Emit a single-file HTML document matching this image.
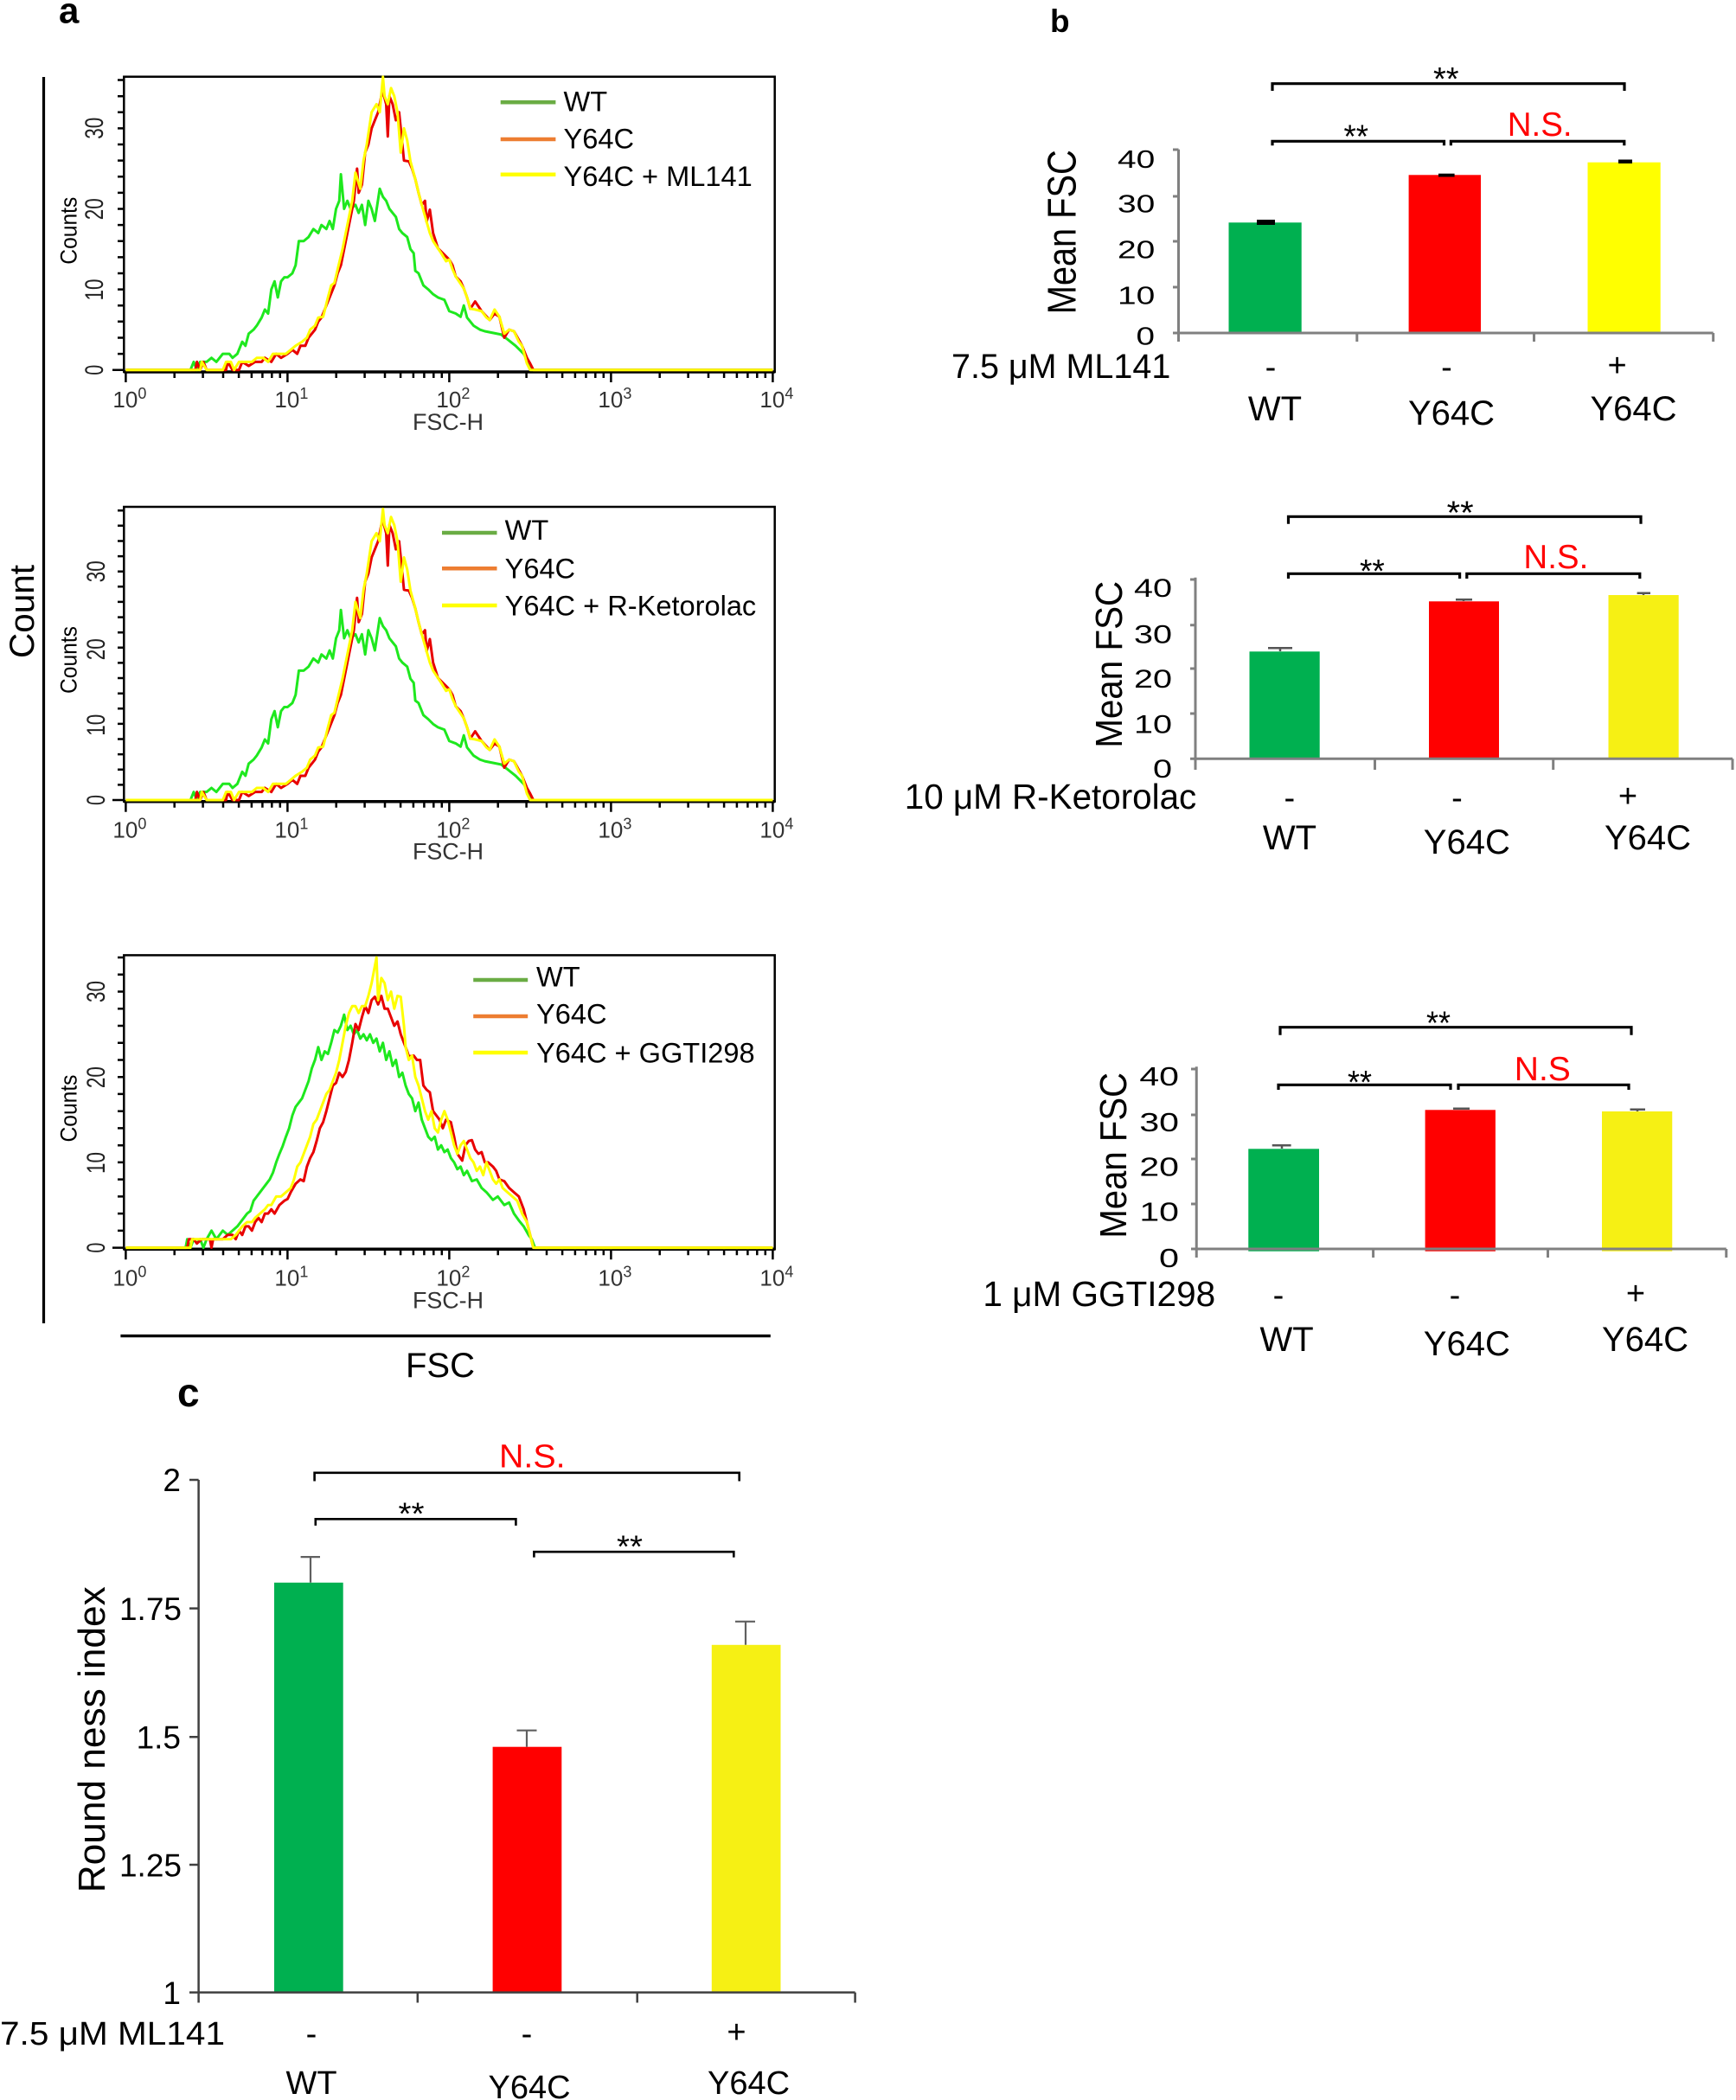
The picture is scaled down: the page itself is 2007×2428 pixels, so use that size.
<!DOCTYPE html>
<html><head><meta charset="utf-8"><style>html,body{margin:0;padding:0;background:#fff}svg{display:block}</style></head>
<body>
<svg xmlns="http://www.w3.org/2000/svg" width="2007" height="2428" viewBox="0 0 2007 2428" font-family="Liberation Sans, Arial, sans-serif">
<rect width="2007" height="2428" fill="#fff"/>

<!-- ============ PANEL A ============ -->
<text x="68" y="26.7" font-size="42" font-weight="bold">a</text>
<line x1="50.5" y1="89" x2="50.5" y2="1530" stroke="#000" stroke-width="3.2"/>
<text transform="translate(39,707) rotate(-90)" text-anchor="middle" font-size="40" textLength="108" lengthAdjust="spacingAndGlyphs">Count</text>
<line x1="139.4" y1="1544.6" x2="890.8" y2="1544.6" stroke="#000" stroke-width="3.4"/>
<text x="509" y="1591.8" text-anchor="middle" font-size="40">FSC</text>

<!-- Plot 1 -->
<g>
<rect x="143.3" y="88.7" width="752.4" height="341.3" fill="none" stroke="#000" stroke-width="2.5"/>
<line x1="143.3" y1="430" x2="895.7" y2="430" stroke="#000" stroke-width="3.5"/>
<path d="M130,427.7H143.3M136,409.1H143.3M136,390.5H143.3M136,371.8H143.3M136,353.2H143.3M136,334.6H143.3M136,316H143.3M136,297.4H143.3M136,278.7H143.3M136,260.1H143.3M136,241.5H143.3M136,222.9H143.3M136,204.3H143.3M136,185.6H143.3M136,167H143.3M136,148.4H143.3M136,129.8H143.3M136,111.2H143.3M136,92.5H143.3" stroke="#000" stroke-width="2.5" fill="none"/>
<g transform="translate(0,430)">
<path d="M145.4,0v12M332.4,0v12M519.4,0v12M706.4,0v12M893.4,0v12M201.7,0v7M234.6,0v7M258,0v7M276.1,0v7M290.9,0v7M303.4,0v7M314.3,0v7M323.8,0v7M388.7,0v7M421.6,0v7M445,0v7M463.1,0v7M477.9,0v7M490.4,0v7M501.3,0v7M510.8,0v7M575.7,0v7M608.6,0v7M632,0v7M650.1,0v7M664.9,0v7M677.4,0v7M688.3,0v7M697.8,0v7M762.7,0v7M795.6,0v7M819,0v7M837.1,0v7M851.9,0v7M864.4,0v7M875.3,0v7M884.8,0v7" stroke="#000" stroke-width="2.5" fill="none"/>
<g font-size="26" fill="#333">
<text x="130.4" y="41">10<tspan dy="-10" font-size="18">0</tspan></text>
<text x="317.4" y="41">10<tspan dy="-10" font-size="18">1</tspan></text>
<text x="504.4" y="41">10<tspan dy="-10" font-size="18">2</tspan></text>
<text x="691.4" y="41">10<tspan dy="-10" font-size="18">3</tspan></text>
<text x="878.4" y="41">10<tspan dy="-10" font-size="18">4</tspan></text>
</g>
<text x="477" y="67" font-size="27" fill="#333" textLength="82" lengthAdjust="spacingAndGlyphs">FSC-H</text>
</g>
<g font-size="30" fill="#222" text-anchor="middle">
<text transform="translate(119,427.7) rotate(-90)" textLength="12" lengthAdjust="spacingAndGlyphs">0</text>
<text transform="translate(119,335) rotate(-90)" textLength="25" lengthAdjust="spacingAndGlyphs">10</text>
<text transform="translate(119,241.7) rotate(-90)" textLength="25" lengthAdjust="spacingAndGlyphs">20</text>
<text transform="translate(119,148.3) rotate(-90)" textLength="25" lengthAdjust="spacingAndGlyphs">30</text>
</g>
<text transform="translate(88.3,266.7) rotate(-90)" text-anchor="middle" font-size="27" textLength="78" lengthAdjust="spacingAndGlyphs">Counts</text>
<g transform="translate(145.4,427.7) scale(187,-9.31)" fill="none" stroke-width="3" stroke-linejoin="round">
<polyline vector-effect="non-scaling-stroke" stroke="#1ee81e" points="0,0 0.40,0 0.42,1 0.44,0 0.46,1 0.50,1 0.53,1.5 0.56,1 0.60,2 0.64,2 0.66,1.5 0.69,2 0.72,3.5 0.74,3 0.76,4.5 0.79,5 0.81,5.5 0.84,6.5 0.86,7.5 0.88,7 0.90,10 0.92,11 0.94,9 0.96,11 0.98,11.5 1.00,11.5 1.03,12 1.05,13 1.07,16 1.10,16 1.13,16.5 1.16,17.5 1.19,17 1.21,18 1.24,17.5 1.26,18.5 1.28,17.5 1.30,20 1.32,21 1.33,24.3 1.35,20 1.37,21 1.39,20 1.42,20.5 1.44,19.5 1.46,20.5 1.48,18 1.50,21 1.52,20 1.54,18.5 1.57,22.5 1.59,21.5 1.61,21 1.63,20 1.65,19.5 1.67,19 1.69,17.5 1.71,17 1.74,16.5 1.76,15 1.78,14.5 1.79,12.3 1.81,12 1.84,10.5 1.87,10 1.90,9.4 1.93,9 1.97,8.7 2.00,7.3 2.04,7 2.07,6.6 2.09,8 2.11,6.5 2.15,5.5 2.19,5 2.22,4.8 2.27,4.6 2.32,4.4 2.36,3.8 2.41,3 2.46,2 2.50,0.6 2.52,0 4,0"/>
<polyline vector-effect="non-scaling-stroke" stroke="#e80000" points="0,0 0.43,0 0.44,1 0.46,0 0.48,1 0.50,0 0.62,0 0.63,1 0.66,0 0.70,0 0.72,1 0.76,0.5 0.80,1 0.84,1 0.86,1.5 0.90,1 0.93,2 0.96,1.5 1.00,2 1.03,2.5 1.06,2 1.08,3 1.11,3 1.13,4 1.15,4.5 1.17,5 1.19,6 1.21,6.5 1.23,7.5 1.25,8.5 1.27,9.5 1.29,10.5 1.31,12 1.33,13 1.35,15 1.37,17 1.39,19 1.41,21 1.43,25 1.44,22 1.46,23 1.48,27 1.50,28 1.52,30 1.54,31 1.56,32 1.58,34 1.59,34.5 1.61,33 1.62,29 1.63,34 1.65,33 1.67,31 1.69,32 1.71,28 1.72,26 1.75,25.9 1.77,25 1.79,23.7 1.81,22 1.83,20.5 1.85,21 1.86,18.4 1.88,19.9 1.90,17 1.93,15.1 1.96,14.5 2.00,13.7 2.02,13 2.04,11.6 2.07,11 2.09,10.1 2.11,9 2.13,7.6 2.16,8.5 2.20,7.3 2.25,6.2 2.28,7 2.31,6.6 2.34,4 2.37,5 2.40,4.8 2.45,3 2.48,1.5 2.50,0.8 2.52,0 4,0"/>
<polyline vector-effect="non-scaling-stroke" stroke="#ffff00" points="0,0 0.46,0 0.47,1 0.50,0 0.60,0 0.62,1 0.65,1 0.67,0 0.70,1 0.74,1 0.78,1 0.81,1.5 0.85,1.5 0.88,1 0.91,2 0.95,2 0.99,2 1.02,2.5 1.05,3 1.09,3.5 1.12,4 1.14,5 1.17,5.5 1.19,6.5 1.22,6.6 1.25,9 1.27,10.5 1.29,10.8 1.31,12.5 1.34,15 1.36,17 1.38,19 1.40,21 1.42,24.5 1.45,22.5 1.47,26 1.49,28 1.52,32 1.55,33 1.57,32 1.59,36.4 1.60,34 1.62,33 1.64,35 1.66,34 1.68,32 1.70,27 1.72,30 1.74,28.5 1.76,25.9 1.79,23.7 1.81,22 1.83,20.5 1.86,18.4 1.88,17 1.90,16 1.93,15.1 1.95,14.5 1.98,13.5 2.00,13.7 2.02,12.5 2.04,11.6 2.06,11 2.09,10.1 2.11,9 2.13,7.6 2.16,7.5 2.20,7.3 2.23,6.5 2.25,6.2 2.28,7.5 2.31,6.6 2.34,4.5 2.37,5 2.40,4.8 2.43,3.5 2.45,3 2.48,0.8 2.50,0 4,0"/>
</g>
<g stroke-width="4.5">
<line x1="578.7" y1="118.3" x2="642.4" y2="118.3" stroke="#6aac44"/>
<line x1="578.7" y1="161" x2="642.4" y2="161" stroke="#ed7d31"/>
<line x1="578.7" y1="201.7" x2="642.4" y2="201.7" stroke="#ffff00"/>
</g>
<g font-size="32.6">
<text x="651.5" y="128.3">WT</text>
<text x="651.5" y="171.7">Y64C</text>
<text x="651.5" y="215">Y64C + ML141</text>
</g>
</g>

<!-- Plot 2 -->
<g>
<rect x="143.3" y="586" width="752.4" height="340.7" fill="none" stroke="#000" stroke-width="2.5"/>
<line x1="143.3" y1="926.7" x2="895.7" y2="926.7" stroke="#000" stroke-width="3.5"/>
<path d="M130,925H143.3M136,907.4H143.3M136,889.8H143.3M136,872.1H143.3M136,854.5H143.3M136,836.9H143.3M136,819.3H143.3M136,801.7H143.3M136,784H143.3M136,766.4H143.3M136,748.8H143.3M136,731.2H143.3M136,713.6H143.3M136,695.9H143.3M136,678.3H143.3M136,660.7H143.3M136,643.1H143.3M136,625.5H143.3M136,607.8H143.3M136,590.2H143.3" stroke="#000" stroke-width="2.5" fill="none"/>
<g transform="translate(0,926.7)">
<path d="M145.4,0v12M332.4,0v12M519.4,0v12M706.4,0v12M893.4,0v12M201.7,0v7M234.6,0v7M258,0v7M276.1,0v7M290.9,0v7M303.4,0v7M314.3,0v7M323.8,0v7M388.7,0v7M421.6,0v7M445,0v7M463.1,0v7M477.9,0v7M490.4,0v7M501.3,0v7M510.8,0v7M575.7,0v7M608.6,0v7M632,0v7M650.1,0v7M664.9,0v7M677.4,0v7M688.3,0v7M697.8,0v7M762.7,0v7M795.6,0v7M819,0v7M837.1,0v7M851.9,0v7M864.4,0v7M875.3,0v7M884.8,0v7" stroke="#000" stroke-width="2.5" fill="none"/>
<g font-size="26" fill="#333">
<text x="130.4" y="41.6">10<tspan dy="-10" font-size="18">0</tspan></text>
<text x="317.4" y="41.6">10<tspan dy="-10" font-size="18">1</tspan></text>
<text x="504.4" y="41.6">10<tspan dy="-10" font-size="18">2</tspan></text>
<text x="691.4" y="41.6">10<tspan dy="-10" font-size="18">3</tspan></text>
<text x="878.4" y="41.6">10<tspan dy="-10" font-size="18">4</tspan></text>
</g>
<text x="477" y="66.6" font-size="27" fill="#333" textLength="82" lengthAdjust="spacingAndGlyphs">FSC-H</text>
</g>
<g font-size="30" fill="#222" text-anchor="middle">
<text transform="translate(121,925) rotate(-90)" textLength="12" lengthAdjust="spacingAndGlyphs">0</text>
<text transform="translate(121,838.3) rotate(-90)" textLength="25" lengthAdjust="spacingAndGlyphs">10</text>
<text transform="translate(121,750.7) rotate(-90)" textLength="25" lengthAdjust="spacingAndGlyphs">20</text>
<text transform="translate(121,660.7) rotate(-90)" textLength="25" lengthAdjust="spacingAndGlyphs">30</text>
</g>
<text transform="translate(88.3,763) rotate(-90)" text-anchor="middle" font-size="27" textLength="78" lengthAdjust="spacingAndGlyphs">Counts</text>
<g transform="translate(145.4,925) scale(187,-9.35)" fill="none" stroke-width="3" stroke-linejoin="round">
<polyline vector-effect="non-scaling-stroke" stroke="#1ee81e" points="0,0 0.40,0 0.42,1 0.44,0 0.46,1 0.50,1 0.53,1.5 0.56,1 0.60,2 0.64,2 0.66,1.5 0.69,2 0.72,3.5 0.74,3 0.76,4.5 0.79,5 0.81,5.5 0.84,6.5 0.86,7.5 0.88,7 0.90,10 0.92,11 0.94,9 0.96,11 0.98,11.5 1.00,11.5 1.03,12 1.05,13 1.07,16 1.10,16 1.13,16.5 1.16,17.5 1.19,17 1.21,18 1.24,17.5 1.26,18.5 1.28,17.5 1.30,20 1.32,21 1.33,23.5 1.35,20 1.37,21 1.39,20 1.42,20.5 1.44,19.5 1.46,20.5 1.48,18 1.50,21 1.52,20 1.54,18.5 1.57,22.5 1.59,21.5 1.61,21 1.63,20 1.65,19.5 1.67,19 1.69,17.5 1.71,17 1.74,16.5 1.76,15 1.78,14.5 1.79,12.3 1.81,12 1.84,10.5 1.87,10 1.90,9.4 1.93,9 1.97,8.7 2.00,7.3 2.04,7 2.07,6.6 2.09,8 2.11,6.5 2.15,5.5 2.19,5 2.22,4.8 2.27,4.6 2.32,4.4 2.36,3.8 2.41,3 2.46,2 2.50,0.6 2.52,0 4,0"/>
<polyline vector-effect="non-scaling-stroke" stroke="#e80000" points="0,0 0.43,0 0.44,1 0.46,0 0.48,1 0.50,0 0.62,0 0.63,1 0.66,0 0.70,0 0.72,1 0.76,0.5 0.80,1 0.84,1 0.86,1.5 0.90,1 0.93,2 0.96,1.5 1.00,2 1.03,2.5 1.06,2 1.08,3 1.11,3 1.13,4 1.15,4.5 1.17,5 1.19,6 1.21,6.5 1.23,7.5 1.25,8.5 1.27,9.5 1.29,10.5 1.31,12 1.33,13 1.35,15 1.37,17 1.39,19 1.41,21 1.43,25 1.44,22 1.46,23 1.48,27 1.50,28 1.52,30 1.54,31 1.56,32 1.58,34 1.59,34.5 1.61,33 1.62,29 1.63,34 1.65,33 1.67,31 1.69,32 1.71,28 1.72,26 1.75,25.9 1.77,25 1.79,23.7 1.81,22 1.83,20.5 1.85,21 1.86,18.4 1.88,19.9 1.90,17 1.93,15.1 1.96,14.5 2.00,13.7 2.02,13 2.04,11.6 2.07,11 2.09,10.1 2.11,9 2.13,7.6 2.16,8.5 2.20,7.3 2.25,6.2 2.28,7 2.31,6.6 2.34,4 2.37,5 2.40,4.8 2.45,3 2.48,1.5 2.50,0.8 2.52,0 4,0"/>
<polyline vector-effect="non-scaling-stroke" stroke="#ffff00" points="0,0 0.46,0 0.47,1 0.50,0 0.60,0 0.62,1 0.65,1 0.67,0 0.70,1 0.74,1 0.78,1 0.81,1.5 0.85,1.5 0.88,1 0.91,2 0.95,2 0.99,2 1.02,2.5 1.05,3 1.09,3.5 1.12,4 1.14,5 1.17,5.5 1.19,6.5 1.22,6.6 1.25,9 1.27,10.5 1.29,10.8 1.31,12.5 1.34,15 1.36,17 1.38,19 1.40,21 1.42,24.5 1.45,22.5 1.47,26 1.49,28 1.52,32 1.55,33 1.57,32 1.59,36 1.60,34 1.62,33 1.64,35 1.66,34 1.68,32 1.70,27 1.72,30 1.74,28.5 1.76,25.9 1.79,23.7 1.81,22 1.83,20.5 1.86,18.4 1.88,17 1.90,16 1.93,15.1 1.95,14.5 1.98,13.5 2.00,13.7 2.02,12.5 2.04,11.6 2.06,11 2.09,10.1 2.11,9 2.13,7.6 2.16,7.5 2.20,7.3 2.23,6.5 2.25,6.2 2.28,7.5 2.31,6.6 2.34,4.5 2.37,5 2.40,4.8 2.43,3.5 2.45,3 2.48,0.8 2.50,0 4,0"/>
</g>
<g stroke-width="4.5">
<line x1="511" y1="616" x2="574.5" y2="616" stroke="#6aac44"/>
<line x1="511" y1="657.3" x2="574.5" y2="657.3" stroke="#ed7d31"/>
<line x1="511" y1="700" x2="574.5" y2="700" stroke="#ffff00"/>
</g>
<g font-size="32.6">
<text x="583.6" y="624">WT</text>
<text x="583.6" y="668.3">Y64C</text>
<text x="583.6" y="711.7">Y64C + R-Ketorolac</text>
</g>
</g>

<!-- Plot 3 -->
<g>
<rect x="143.3" y="1104.4" width="752.4" height="339.9" fill="none" stroke="#000" stroke-width="2.5"/>
<line x1="143.3" y1="1444.3" x2="895.7" y2="1444.3" stroke="#000" stroke-width="3.5"/>
<path d="M130,1442.6H143.3M136,1422.9H143.3M136,1403.1H143.3M136,1383.4H143.3M136,1363.6H143.3M136,1343.9H143.3M136,1324.2H143.3M136,1304.4H143.3M136,1284.7H143.3M136,1264.9H143.3M136,1245.2H143.3M136,1225.5H143.3M136,1205.7H143.3M136,1186H143.3M136,1166.2H143.3M136,1146.5H143.3M136,1126.8H143.3M136,1107H143.3" stroke="#000" stroke-width="2.5" fill="none"/>
<g transform="translate(0,1444.3)">
<path d="M145.4,0v12M332.4,0v12M519.4,0v12M706.4,0v12M893.4,0v12M201.7,0v7M234.6,0v7M258,0v7M276.1,0v7M290.9,0v7M303.4,0v7M314.3,0v7M323.8,0v7M388.7,0v7M421.6,0v7M445,0v7M463.1,0v7M477.9,0v7M490.4,0v7M501.3,0v7M510.8,0v7M575.7,0v7M608.6,0v7M632,0v7M650.1,0v7M664.9,0v7M677.4,0v7M688.3,0v7M697.8,0v7M762.7,0v7M795.6,0v7M819,0v7M837.1,0v7M851.9,0v7M864.4,0v7M875.3,0v7M884.8,0v7" stroke="#000" stroke-width="2.5" fill="none"/>
<g font-size="26" fill="#333">
<text x="130.4" y="42.4">10<tspan dy="-10" font-size="18">0</tspan></text>
<text x="317.4" y="42.4">10<tspan dy="-10" font-size="18">1</tspan></text>
<text x="504.4" y="42.4">10<tspan dy="-10" font-size="18">2</tspan></text>
<text x="691.4" y="42.4">10<tspan dy="-10" font-size="18">3</tspan></text>
<text x="878.4" y="42.4">10<tspan dy="-10" font-size="18">4</tspan></text>
</g>
<text x="477" y="68.3" font-size="27" fill="#333" textLength="82" lengthAdjust="spacingAndGlyphs">FSC-H</text>
</g>
<g font-size="30" fill="#222" text-anchor="middle">
<text transform="translate(121,1442.6) rotate(-90)" textLength="12" lengthAdjust="spacingAndGlyphs">0</text>
<text transform="translate(121,1344.5) rotate(-90)" textLength="25" lengthAdjust="spacingAndGlyphs">10</text>
<text transform="translate(121,1245.6) rotate(-90)" textLength="25" lengthAdjust="spacingAndGlyphs">20</text>
<text transform="translate(121,1146.5) rotate(-90)" textLength="25" lengthAdjust="spacingAndGlyphs">30</text>
</g>
<text transform="translate(88.3,1281.5) rotate(-90)" text-anchor="middle" font-size="27" textLength="78" lengthAdjust="spacingAndGlyphs">Counts</text>
<g transform="translate(145.4,1442.6) scale(187,-9.87)" fill="none" stroke-width="3" stroke-linejoin="round">
<polyline vector-effect="non-scaling-stroke" stroke="#1ee81e" points="0,0 0.37,0 0.38,1 0.40,0 0.42,1 0.44,0.5 0.46,1 0.48,0 0.50,1 0.53,2 0.56,1 0.60,2 0.63,1.5 0.66,2 0.69,2.5 0.71,3 0.73,3.5 0.75,4 0.77,4.3 0.79,5.5 0.81,6 0.83,6.5 0.85,7 0.87,7.5 0.89,8 0.91,8.8 0.93,10 0.95,11 0.97,11.9 0.99,13 1.01,14 1.03,15.5 1.05,16.5 1.07,17 1.09,17.5 1.11,18.5 1.13,19.5 1.15,21 1.17,22 1.19,23.5 1.21,22 1.23,23 1.25,22.7 1.27,24 1.29,25.5 1.31,25.2 1.33,26 1.35,27.3 1.37,25.5 1.39,26 1.41,25 1.43,25.5 1.45,24.5 1.47,25 1.49,24.3 1.51,25 1.53,24 1.55,24.5 1.57,23 1.59,24 1.61,22 1.63,23 1.65,21.3 1.67,22 1.69,20 1.71,20.5 1.73,19 1.75,18 1.77,17.5 1.79,16 1.81,17 1.83,15 1.85,14 1.87,13 1.89,12.6 1.91,13 1.93,11.5 1.95,12 1.97,11.2 1.99,11.5 2.01,10.5 2.03,10 2.05,9.2 2.07,9.5 2.09,8.5 2.11,9 2.14,7.8 2.17,8 2.20,7 2.23,6.5 2.27,5.6 2.30,6 2.34,5 2.37,5.3 2.40,4 2.43,3.2 2.46,2.5 2.49,1.5 2.51,1 2.53,0 4,0"/>
<polyline vector-effect="non-scaling-stroke" stroke="#e80000" points="0,0 0.38,0 0.39,1 0.42,1 0.44,0.5 0.47,1 0.52,1 0.53,0 0.54,1 0.60,1 0.63,1.5 0.66,1.5 0.68,1 0.70,2 0.72,1.5 0.74,2.5 0.76,2.5 0.78,2 0.80,3 0.82,3.5 0.84,3 0.86,4 0.88,4 0.90,4.5 0.92,4 0.95,5 0.98,5.5 1.00,5.7 1.02,6.5 1.05,7.5 1.08,8 1.10,7.8 1.12,9.5 1.14,10.5 1.16,11.2 1.18,12.5 1.20,14 1.22,14.7 1.24,16 1.26,17.5 1.28,19 1.30,19.3 1.32,20.5 1.34,20 1.36,20.6 1.38,22 1.40,24 1.42,26.2 1.44,25.5 1.46,27 1.48,28.3 1.50,27.5 1.52,29 1.54,29.4 1.56,28.5 1.58,29.5 1.60,28 1.62,28 1.64,27 1.66,26 1.68,26.5 1.70,25 1.72,24 1.74,23 1.75,22.4 1.78,22.5 1.80,22 1.82,22 1.84,19 1.86,18.5 1.88,18.2 1.90,16 1.92,15.5 1.94,15 1.96,14 1.98,15 2.01,14.7 2.03,13 2.05,11 2.08,10.2 2.10,12 2.12,12.5 2.14,12.6 2.16,11.5 2.18,11 2.20,11.2 2.22,10 2.24,10 2.27,9.5 2.29,9 2.31,8 2.34,7.8 2.37,7 2.40,6.5 2.43,6 2.46,4.5 2.48,3 2.50,1.5 2.52,0 4,0"/>
<polyline vector-effect="non-scaling-stroke" stroke="#ffff00" points="0,0 0.40,0 0.41,1 0.50,1 0.55,1 0.60,1 0.65,1 0.68,1.5 0.70,2 0.72,2.5 0.75,3 0.78,3 0.80,3.5 0.83,4 0.86,4.5 0.88,5 0.90,5 0.93,6 0.96,6 0.99,6.5 1.02,7 1.04,8 1.06,9.5 1.08,10 1.10,11 1.12,12 1.14,13 1.16,14.5 1.18,15 1.20,16 1.22,17 1.24,18 1.26,18.5 1.28,19.5 1.30,20.5 1.32,22 1.34,24 1.36,26 1.38,27.5 1.40,28.3 1.42,28.3 1.44,27.5 1.46,28.3 1.48,28.3 1.50,29.5 1.52,31 1.55,34 1.56,29 1.58,31.6 1.60,31 1.62,29 1.64,30 1.66,28 1.68,29.5 1.70,29.4 1.72,26 1.73,23.5 1.75,22 1.77,22.5 1.79,20 1.81,19 1.83,17.5 1.85,16 1.87,15 1.89,16 1.91,14 1.93,13.5 1.95,15 1.97,16 1.99,15 2.01,13.5 2.03,12 2.05,11 2.07,12 2.09,12.5 2.11,11.5 2.13,10.5 2.15,10 2.17,9 2.19,9.5 2.21,8.5 2.23,10 2.25,9 2.27,8 2.29,7.5 2.31,8 2.33,7 2.36,6.5 2.39,6 2.42,5.5 2.45,4 2.48,3 2.50,1.5 2.52,0 4,0"/>
</g>
<g stroke-width="4.5">
<line x1="547.2" y1="1133" x2="610.2" y2="1133" stroke="#6aac44"/>
<line x1="547.2" y1="1175" x2="610.2" y2="1175" stroke="#ed7d31"/>
<line x1="547.2" y1="1217" x2="610.2" y2="1217" stroke="#ffff00"/>
</g>
<g font-size="32.6">
<text x="620" y="1140.6">WT</text>
<text x="620" y="1183.6">Y64C</text>
<text x="620" y="1228.4">Y64C + GGTI298</text>
</g>
</g>

<!-- ============ PANEL B ============ -->
<text x="1214" y="37" font-size="37" font-weight="bold">b</text>

<!-- b1 -->
<g>
<rect x="1420.5" y="257.3" width="84.2" height="127.7" fill="#00b050"/>
<rect x="1628.6" y="202.3" width="83.4" height="182.7" fill="#ff0000"/>
<rect x="1835.5" y="187.7" width="84.2" height="197.3" fill="#ffff00"/>
<rect x="1453" y="254" width="21" height="6" fill="#000"/>
<rect x="1663" y="200.7" width="18.6" height="3.8" fill="#000"/>
<rect x="1871" y="184.5" width="16" height="4.5" fill="#000"/>
<path d="M1362.5,172.7V385M1356,173H1362.5M1356,227H1362.5M1356,279H1362.5M1356,332H1362.5M1356,385H1980.7M1362.5,385V395M1568.8,385V395M1773.5,385V395M1980.7,385V395" stroke="#808080" stroke-width="3" fill="none"/>
<path d="M1471,105V96.7H1878V105M1471,168.3V163.3H1669.5V168.3M1677.4,168.3V163.3H1877.8V168.3" stroke="#000" stroke-width="3.2" fill="none"/>
<text x="1657" y="103.9" font-size="38" textLength="29.6" lengthAdjust="spacingAndGlyphs">**</text>
<text x="1553.5" y="170.5" font-size="38" textLength="28.5" lengthAdjust="spacingAndGlyphs">**</text>
<text x="1742.7" y="157" font-size="38.5" fill="#ff0000">N.S.</text>
<g font-size="29">
<text x="1292" y="194" textLength="43.3" lengthAdjust="spacingAndGlyphs">40</text>
<text x="1292" y="245.5" textLength="43.3" lengthAdjust="spacingAndGlyphs">30</text>
<text x="1292" y="298.5" textLength="43.3" lengthAdjust="spacingAndGlyphs">20</text>
<text x="1292" y="351.7" textLength="43.3" lengthAdjust="spacingAndGlyphs">10</text>
<text x="1313.5" y="398.3" textLength="21.5" lengthAdjust="spacingAndGlyphs">0</text>
</g>
<text transform="translate(1243.3,268.3) rotate(-90) scale(1,1.12)" text-anchor="middle" font-size="41" textLength="190" lengthAdjust="spacingAndGlyphs">Mean FSC</text>
<text x="1100" y="437" font-size="39.5">7.5 μM ML141</text>
<g font-size="38" text-anchor="middle">
<text x="1469" y="437">-</text>
<text x="1672.5" y="437">-</text>
<text x="1869.6" y="435">+</text>
</g>
<g font-size="40" text-anchor="middle">
<text x="1474" y="486">WT</text>
<text x="1678" y="491">Y64C</text>
<text x="1888.5" y="486">Y64C</text>
</g>
</g>

<!-- b2 -->
<g>
<rect x="1444.5" y="753.3" width="81.2" height="124" fill="#00b050"/>
<rect x="1652" y="695.3" width="81" height="182" fill="#ff0000"/>
<rect x="1859.5" y="688" width="81.2" height="189.3" fill="#f6f014"/>
<path d="M1480,753V749.3M1466,749.3H1494M1692,695V693.3M1683,693.3H1702M1900,688V685.7M1892.6,685.7H1908" stroke="#555" stroke-width="2.5" fill="none"/>
<path d="M1382,667.7V877.3M1376,670H1382M1376,722.7H1382M1376,773H1382M1376,825H1382M1376,877.3H2003M1382,877.3V890M1589.5,877.3V890M1795.7,877.3V890M2003,877.3V890" stroke="#808080" stroke-width="3" fill="none"/>
<path d="M1489.5,605.7V597.3H1897V605.7M1489.5,669V663.3H1687.6V669M1695.8,669V663.3H1895.8V669" stroke="#000" stroke-width="3.2" fill="none"/>
<text x="1672.6" y="605.5" font-size="38" textLength="31" lengthAdjust="spacingAndGlyphs">**</text>
<text x="1572" y="673.2" font-size="38" textLength="28.8" lengthAdjust="spacingAndGlyphs">**</text>
<text x="1761.4" y="657" font-size="38.5" fill="#ff0000">N.S.</text>
<g font-size="30">
<text x="1311" y="690" textLength="44" lengthAdjust="spacingAndGlyphs">40</text>
<text x="1311" y="743.5" textLength="44" lengthAdjust="spacingAndGlyphs">30</text>
<text x="1311" y="795" textLength="44" lengthAdjust="spacingAndGlyphs">20</text>
<text x="1311" y="847.7" textLength="44" lengthAdjust="spacingAndGlyphs">10</text>
<text x="1333" y="899" textLength="22" lengthAdjust="spacingAndGlyphs">0</text>
</g>
<text transform="translate(1297,768.3) rotate(-90) scale(1,1.1)" text-anchor="middle" font-size="40" textLength="193" lengthAdjust="spacingAndGlyphs">Mean FSC</text>
<text x="1045.75" y="935" font-size="40.5" textLength="337.5" lengthAdjust="spacingAndGlyphs">10 μM R-Ketorolac</text>
<g font-size="38" text-anchor="middle">
<text x="1490.8" y="935">-</text>
<text x="1684.5" y="935">-</text>
<text x="1882" y="933">+</text>
</g>
<g font-size="40" text-anchor="middle">
<text x="1491" y="982">WT</text>
<text x="1695.8" y="987">Y64C</text>
<text x="1905" y="982">Y64C</text>
</g>
</g>

<!-- b3 -->
<g>
<rect x="1443.25" y="1328.3" width="81.75" height="118.4" fill="#00b050"/>
<rect x="1647.6" y="1283.3" width="81.3" height="163.4" fill="#ff0000"/>
<rect x="1852" y="1285" width="81.25" height="161.7" fill="#f6f014"/>
<path d="M1482,1328V1324.3M1470.75,1324.3H1492.6M1689.5,1283V1281.7M1680,1281.7H1699M1893,1285V1282.7M1884.5,1282.7H1902" stroke="#555" stroke-width="2.5" fill="none"/>
<path d="M1383.25,1233.3V1444M1377,1236H1383.25M1377,1289H1383.25M1377,1340H1383.25M1377,1392H1383.25M1377,1444H1995.75M1383.25,1444V1454M1587.6,1444V1454M1789.5,1444V1454M1995.75,1444V1454" stroke="#808080" stroke-width="3" fill="none"/>
<path d="M1480,1196.7V1187.7H1886V1196.7M1478,1260V1254.3H1677V1260M1686,1260V1254.3H1883V1260" stroke="#000" stroke-width="3.2" fill="none"/>
<text x="1649" y="1195.5" font-size="38" textLength="28" lengthAdjust="spacingAndGlyphs">**</text>
<text x="1558" y="1263.9" font-size="38" textLength="28" lengthAdjust="spacingAndGlyphs">**</text>
<text x="1750.8" y="1249" font-size="39" fill="#ff0000">N.S</text>
<g font-size="31">
<text x="1317.4" y="1255" textLength="45.6" lengthAdjust="spacingAndGlyphs">40</text>
<text x="1317.4" y="1308" textLength="45.6" lengthAdjust="spacingAndGlyphs">30</text>
<text x="1317.4" y="1359.5" textLength="45.6" lengthAdjust="spacingAndGlyphs">20</text>
<text x="1317.4" y="1411.5" textLength="45.6" lengthAdjust="spacingAndGlyphs">10</text>
<text x="1340" y="1465" textLength="23" lengthAdjust="spacingAndGlyphs">0</text>
</g>
<text transform="translate(1302,1335.8) rotate(-90) scale(1,1.1)" text-anchor="middle" font-size="40" textLength="191.7" lengthAdjust="spacingAndGlyphs">Mean FSC</text>
<text x="1136.4" y="1510" font-size="40.5" textLength="268.75" lengthAdjust="spacingAndGlyphs">1 μM GGTI298</text>
<g font-size="38" text-anchor="middle">
<text x="1478" y="1510">-</text>
<text x="1682" y="1510">-</text>
<text x="1891" y="1508">+</text>
</g>
<g font-size="40" text-anchor="middle">
<text x="1487.6" y="1562">WT</text>
<text x="1695.8" y="1567">Y64C</text>
<text x="1902" y="1562">Y64C</text>
</g>
</g>

<!-- ============ PANEL C ============ -->
<text x="205" y="1626" font-size="46" font-weight="bold">c</text>
<g>
<rect x="317" y="1829.8" width="79.7" height="473.8" fill="#00b050"/>
<rect x="569.6" y="2019.7" width="79.7" height="283.9" fill="#ff0000"/>
<rect x="822.8" y="1901.8" width="79.7" height="401.8" fill="#f6f014"/>
<path d="M359,1829.8V1800.1M347.6,1800.1H370M609,2019.7V2000.7M597.5,2000.7H620.5M862,1901.8V1874.8M850,1874.8H873" stroke="#606060" stroke-width="2.2" fill="none"/>
<path d="M229.6,1711V2303.6M219,1711H229.6M219,1859.6H229.6M219,2008.3H229.6M219,2156H229.6M219,2303.6H988.6M229.6,2303.6V2315.5M482.8,2303.6V2315.5M736.7,2303.6V2315.5M988.6,2303.6V2315.5" stroke="#404040" stroke-width="2.5" fill="none"/>
<path d="M363.6,1712.5V1702.8H854.7V1712.5M364.8,1763.9V1756.3H596.4V1763.9M617.4,1800.6V1794.2H848.3V1800.6" stroke="#000" stroke-width="2.6" fill="none"/>
<text x="577" y="1696.3" font-size="38" fill="#ff0000" textLength="76.5" lengthAdjust="spacingAndGlyphs">N.S.</text>
<text x="460.5" y="1762.6" font-size="36" textLength="30" lengthAdjust="spacingAndGlyphs">**</text>
<text x="713" y="1800.5" font-size="36" textLength="30" lengthAdjust="spacingAndGlyphs">**</text>
<g font-size="37" text-anchor="end">
<text x="209" y="1724">2</text>
<text x="210" y="1873">1.75</text>
<text x="209" y="2021.5">1.5</text>
<text x="210" y="2169.5">1.25</text>
<text x="209" y="2317">1</text>
</g>
<text transform="translate(121,2011.3) rotate(-90)" text-anchor="middle" font-size="44" textLength="354" lengthAdjust="spacingAndGlyphs">Round ness index</text>
<text x="0" y="2364" font-size="38" textLength="260" lengthAdjust="spacingAndGlyphs">7.5 μM ML141</text>
<g font-size="38" text-anchor="middle">
<text x="360" y="2364">-</text>
<text x="609" y="2364">-</text>
<text x="851.5" y="2362">+</text>
<text x="360" y="2421">WT</text>
<text x="612" y="2426">Y64C</text>
<text x="865.5" y="2421">Y64C</text>
</g>
</g>
</svg>
</body></html>
